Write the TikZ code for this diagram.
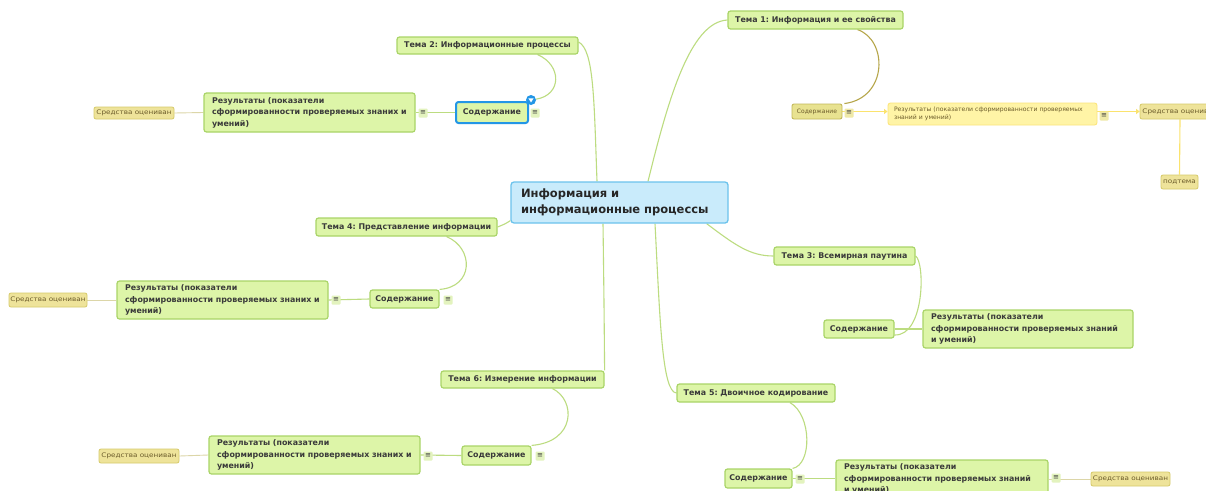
\documentclass[tikz,border=0pt]{standalone}
\usepackage{fontspec}
\setmainfont{DejaVu Sans}
\newfontfamily\leaffont[FakeStretch=1.15]{DejaVu Sans}
\usetikzlibrary{calc,arrows.meta}
\pgfdeclarelayer{bg}
\pgfsetlayers{bg,main}
\frenchspacing

\definecolor{topicfill}{HTML}{DDF5A8}
\definecolor{topicline}{HTML}{A9D467}
\definecolor{linkcol}{HTML}{BCDC80}
\definecolor{ink}{HTML}{3A3A3A}
\definecolor{ctrfill}{HTML}{C9EBFB}
\definecolor{ctrline}{HTML}{6CC3EC}
\definecolor{leaffill}{HTML}{EEE39A}
\definecolor{leafline}{HTML}{D6CA6A}
\definecolor{leafink}{HTML}{6B5B2A}
\definecolor{olivefill}{HTML}{E8E290}
\definecolor{oliveline}{HTML}{C2B85A}
\definecolor{palefill}{HTML}{FFF4A6}
\definecolor{paleline}{HTML}{FCE57C}
\definecolor{yellowlink}{HTML}{FBE36E}
\definecolor{olivelink}{HTML}{B6A64A}
\definecolor{thinlink}{HTML}{DCD6A8}
\definecolor{selblue}{HTML}{2396E6}
\definecolor{menufill}{HTML}{E3F3BE}
\definecolor{menuyellow}{HTML}{EFE9A8}

\tikzset{
  sz/.style 2 args={minimum width=#1pt, minimum height=#2pt},
  topic/.style={draw=topicline, fill=topicfill, line width=1.2pt, rounded corners=2.5pt,
    font=\fontsize{7.9}{11.5}\selectfont\bfseries, text=ink, inner sep=0pt},
  result/.style={topic, align=left, inner xsep=8pt, inner ysep=0pt},
  ctrbox/.style={draw=ctrline, fill=ctrfill, line width=1.3pt, rounded corners=3pt,
    font=\fontsize{11.5}{16}\selectfont\bfseries, text=black!85, align=left,
    inner xsep=10pt, inner ysep=0pt},
  leaf/.style={draw=leafline, fill=leaffill, line width=0.8pt, rounded corners=2pt,
    font=\leaffont\fontsize{6.3}{7}\selectfont, text=leafink, inner sep=0pt},
  olivebox/.style={draw=oliveline, fill=olivefill, line width=0.9pt, rounded corners=2pt,
    font=\fontsize{6}{7}\selectfont, text=leafink, inner sep=0pt},
  palebox/.style={draw=paleline, fill=palefill, line width=0.9pt, rounded corners=2.5pt,
    font=\fontsize{6.1}{8}\selectfont, text=leafink, align=left, inner xsep=6pt, inner ysep=0pt},
  menu/.style={fill=menufill, minimum size=9pt, inner sep=0pt, rounded corners=1pt,
    font=\fontsize{7}{7}\selectfont, text=ink},
  menuy/.style={menu, fill=menuyellow},
  link/.style={draw=linkcol, line width=1.1pt},
  thin/.style={draw=thinlink, line width=0.9pt},
  ylink/.style={draw=yellowlink, line width=1.1pt},
  olink/.style={draw=olivelink, line width=1.1pt},
  ptr/.style={-{Triangle[length=3.5pt,width=5pt]}},
}

\begin{document}
\begin{tikzpicture}[x=1pt, y=-1pt]
\clip (0,0) rectangle (1206,490);
\useasboundingbox (0,0) rectangle (1206,490);
\begin{pgfonlayer}{bg}
  \fill[white] (0,0) rectangle (1206,490);
\end{pgfonlayer}

% central topic
\node[ctrbox, sz={217}{41}, text width=197pt] (ctr) at (619.5,202.5)
  {Информация и\\информационные процессы};

% main topics
\node[topic, sz={175}{18}] (t1) at (815.5,20) {Тема 1: Информация и ее свойства};
\node[topic, sz={181}{17}] (t2) at (487.5,45.5) {Тема 2: Информационные процессы};
\node[topic, sz={141}{18}] (t3) at (844.5,256) {Тема 3: Всемирная паутина};
\node[topic, sz={181}{18}] (t4) at (406.5,227) {Тема 4: Представление информации};
\node[topic, sz={158}{18}] (t5) at (756,393) {Тема 5: Двоичное кодирование};
\node[topic, sz={163}{17}] (t6) at (522.5,379.5) {Тема 6: Измерение информации};

% "Содержание" subtopics
\node[olivebox, sz={50}{15}] (c1) at (817,111.5) {Содержание};
\node[topic, draw=selblue, line width=2pt, sz={72}{21}] (c2) at (492,112.5) {Содержание};
\node[topic, sz={70}{18}] (c3) at (859,329) {Содержание};
\node[topic, sz={69}{18}] (c4) at (404.5,299) {Содержание};
\node[topic, sz={67}{19}] (c5) at (758.5,478.5) {Содержание};
\node[topic, sz={69}{19}] (c6) at (496.5,455.5) {Содержание};

% selection marker on the active node
\node[circle, fill=selblue, minimum size=10pt, inner sep=0pt] (sel) at (531,100) {};
\fill[white] ($(sel.center)+(-2.6,-1.6)$) -- ++(5.2,0) -- ++(-2.6,4) -- cycle;

% results
\node[palebox, sz={209}{22}, text width=197pt] (r1) at (992.5,114)
  {Результаты (показатели сформированности проверяемых\\знаний и умений)};
\node[result, sz={211}{39}, text width=195pt] (r2) at (309.5,112.5)
  {Результаты (показатели\\сформированности проверяемых знаних и\\умений)};
\node[result, sz={210}{38}, text width=194pt] (r3) at (1028,329)
  {Результаты (показатели\\сформированности проверяемых знаний\\и умений)};
\node[result, sz={211}{38}, text width=195pt] (r4) at (222.5,300)
  {Результаты (показатели\\сформированности проверяемых знаних и\\умений)};
\node[result, sz={212}{38}, text width=196pt] (r5) at (942,479)
  {Результаты (показатели\\сформированности проверяемых знаний\\и умений)};
\node[result, sz={211}{38}, text width=195pt] (r6) at (314.5,455)
  {Результаты (показатели\\сформированности проверяемых знаних и\\умений)};

% assessment leaves
\node[leaf, sz={80}{15}] (s1) at (1180,111.5) {Средства оцениван};
\node[leaf, sz={37}{14}] (p1) at (1179.5,182) {подтема};
\node[leaf, sz={80}{12}] (s2) at (134,113) {Средства оцениван};
\node[leaf, sz={78}{14}] (s4) at (48,300) {Средства оцениван};
\node[leaf, sz={79}{14}] (s5) at (1130.5,479) {Средства оцениван};
\node[leaf, sz={80}{14}] (s6) at (139,456) {Средства оцениван};

% connector anchors on the central topic
\coordinate (aT1) at ([xshift=28.5pt]ctr.north);
\coordinate (aT2) at ([xshift=-22.5pt]ctr.north);
\coordinate (aT3) at ([xshift=-22pt]ctr.south east);
\coordinate (aT4) at ([yshift=3pt]ctr.south west);
\coordinate (aT5) at ([xshift=35.5pt]ctr.south);
\coordinate (aT6) at ([xshift=-16.5pt]ctr.south);

\begin{pgfonlayer}{bg}
  % centre to main topics
  \draw[link] (aT1) .. controls (668,100) and (690,22) .. (t1.west);
  \draw[link] (aT2) .. controls (594,100) and (594,50) .. ([yshift=3.5pt]t2.east);
  \draw[link] (aT3) .. controls (735,245) and (750,256) .. (t3.west);
  \draw[link] (aT4) .. controls (505,224) .. (t4.east);
  \draw[link] (aT5) .. controls (660,320) and (662,392) .. (t5.west);
  \draw[link] (aT6) .. controls (604,300) .. (t6.north east);

  % main topics to subtopics
  \draw[olink] ([xshift=42pt]t1.south) .. controls (888,40) and (888,98) .. ([xshift=2pt]c1.north east);
  \draw[link] ([xshift=50pt]t2.south) .. controls (562,65) and (562,95) .. (sel);
  \draw[link] (t3.east) .. controls (925,262) and (925,336) .. ([yshift=-6pt]c3.east);
  \draw[link] ([xshift=40pt]t4.south) .. controls (474,248) and (474,287) .. (c4.north east);
  \draw[link] ([xshift=34pt]t5.south) .. controls (812,415) and (812,465) .. (c5.north east);
  \draw[link] ([xshift=30pt]t6.south) .. controls (576,400) and (576,442) .. (c6.north east);

  % subtopics to results
  \draw[ylink, ptr] (c1.east) -- (r1.west |- c1.east);
  \draw[link] (c2.west) -- (r2.east);
  \draw[link] (c3.east) -- (r3.west);
  \draw[link] (c4.west) -- (r4.east);
  \draw[link] (c5.east) -- (r5.west |- c5.east);
  \draw[link] (c6.west) -- (r6.east);

  % results to assessment leaves
  \draw[ylink, ptr] (r1.east |- s1.west) -- (s1.west);
  \draw[ylink] (s1.south) -- (p1.north);
  \draw[thin] (r2.west) -- (s2.east);
  \draw[thin] (r4.west) -- (s4.east);
  \draw[thin] (r5.east |- s5.west) -- (s5.west);
  \draw[thin] (r6.west) -- (s6.east);
\end{pgfonlayer}

% collapse/expand menu markers
\node[menuy] (m1c) at (849,113) {≡};
\node[menuy] (m1r) at (1104,116) {≡};
\node[menu] (m2c) at (535,113) {≡};
\node[menu] (m2r) at (423,113) {≡};
\node[menu] (m4c) at (448,300) {≡};
\node[menu] (m4r) at (336,300) {≡};
\node[menu] (m5c) at (800,479) {≡};
\node[menu] (m5r) at (1056,478) {≡};
\node[menu] (m6c) at (540,456) {≡};
\node[menu] (m6r) at (428,456) {≡};
\end{tikzpicture}
\end{document}
